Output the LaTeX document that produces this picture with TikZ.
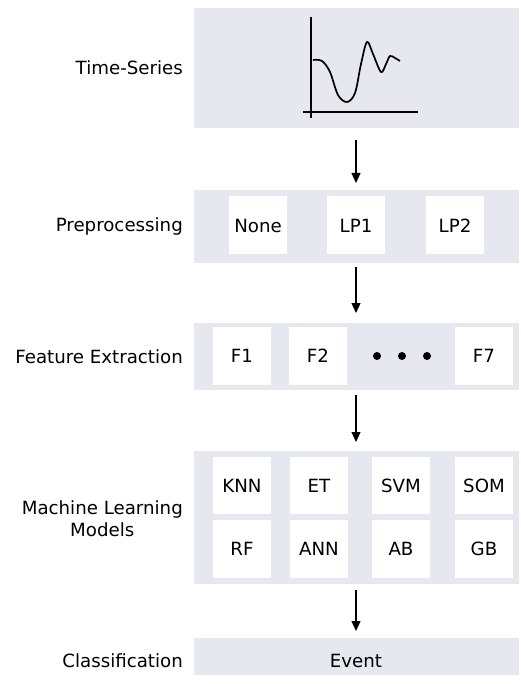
\documentclass[tikz,border=0pt]{standalone}
\usepackage{fontspec}
\setmainfont{DejaVu Sans}
\usetikzlibrary{arrows.meta}
\definecolor{panelbg}{HTML}{E7E7F0}
\tikzset{
  panel/.style={fill=panelbg, draw=none, inner sep=0pt, minimum width=325pt},
  itembox/.style={fill=white, draw=none, inner sep=0pt, minimum width=58pt, minimum height=58pt, font=\fontsize{18.2}{21}\selectfont},
  lbl/.style={anchor=east, inner sep=0pt, align=center, font=\fontsize{18.2}{22}\selectfont},
  flow/.style={line width=1.3pt, -{Triangle[length=10pt,width=9pt]}},
  dotmark/.style={circle, fill=black, inner sep=0pt, minimum size=8pt},
}
\begin{document}
\begin{tikzpicture}[x=1pt,y=-1pt]
\useasboundingbox (0,0) rectangle (520,684);
% panels
\node[panel, minimum height=120pt] (p1) at (356.5,68) {};
\node[panel, minimum height=73pt] (p2) at (356.5,226.5) {};
\node[panel, minimum height=67pt] (p3) at (356.5,356.5) {};
\node[panel, minimum height=133pt] (p4) at (356.5,517.5) {};
\node[panel, minimum height=37pt] (p5) at (356.5,656.5) {};
\node[inner sep=0pt, font=\fontsize{18.2}{21}\selectfont] (ev) at (356,661) {Event};
% labels
\node[lbl] (l1) at (183,68) {Time-Series};
\node[lbl] (l2) at (183,226.5) {Preprocessing};
\node[lbl] (l3) at (183,356.5) {Feature Extraction};
\node[lbl] (l4) at (183,519) {Machine Learning\\Models};
\node[lbl] (l5) at (183,661) {Classification};
% time series chart
\draw[line width=1.7pt] (311,17) -- (311,118);
\draw[line width=1.7pt] (303,112) -- (418,112);
\draw[line width=1.7pt] plot[smooth, tension=0.55] coordinates {(313,60) (322,61) (330,72) (338,95) (347,102) (355,93) (361,64) (367,42) (373,54) (381,72) (386,64) (390,56) (395,58) (400,61)};
% preprocessing
\node[itembox] (none) at (258,225.5) {None};
\node[itembox] (lp1) at (356,225.5) {LP1};
\node[itembox] (lp2) at (455,225.5) {LP2};
% features
\node[itembox] (f1) at (242,356) {F1};
\node[itembox] (f2) at (318,356) {F2};
\node[dotmark] (d1) at (377,356) {};
\node[dotmark] (d2) at (402,356) {};
\node[dotmark] (d3) at (427,356) {};
\node[itembox] (f7) at (484,356) {F7};
% models
\node[itembox, minimum height=57pt] (knn) at (242,485.5) {KNN};
\node[itembox, minimum height=57pt] (et) at (319,485.5) {ET};
\node[itembox, minimum height=57pt] (svm) at (401,485.5) {SVM};
\node[itembox, minimum height=57pt] (som) at (484,485.5) {SOM};
\node[itembox] (rf) at (242,549) {RF};
\node[itembox] (ann) at (319,549) {ANN};
\node[itembox] (ab) at (401,549) {AB};
\node[itembox] (gb) at (484,549) {GB};
% arrows
\coordinate (a1s) at (356,140); \coordinate (a1e) at (356,183);
\coordinate (a2s) at (356,267); \coordinate (a2e) at (356,313);
\coordinate (a3s) at (356,395); \coordinate (a3e) at (356,442);
\coordinate (a4s) at (356,590); \coordinate (a4e) at (356,631);
\draw[flow] (a1s) -- (a1e);
\draw[flow] (a2s) -- (a2e);
\draw[flow] (a3s) -- (a3e);
\draw[flow] (a4s) -- (a4e);
\end{tikzpicture}
\end{document}
